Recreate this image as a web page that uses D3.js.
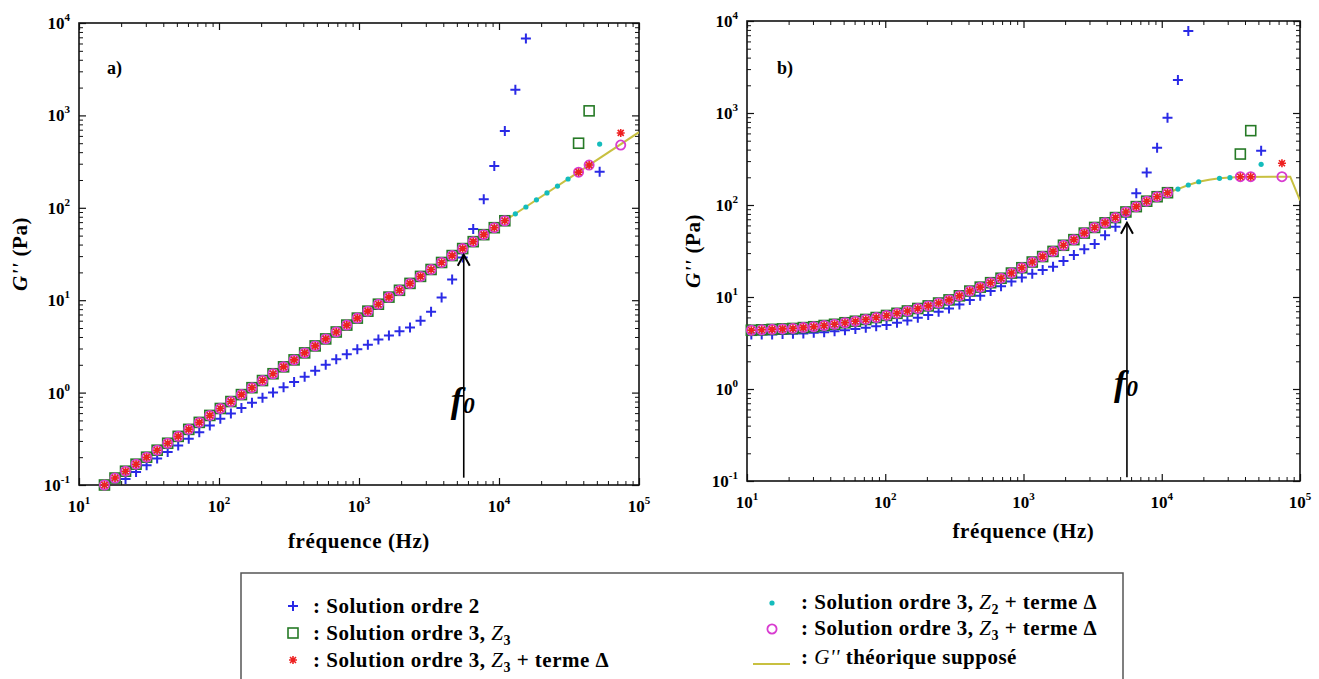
<!DOCTYPE html>
<html><head><meta charset="utf-8">
<script src="https://cdn.jsdelivr.net/npm/d3@7"></script>
<style>
body{margin:0;background:#fff;}
svg{display:block;}
text{font-family:"Liberation Serif","Times New Roman",serif;font-weight:bold;fill:#000;}
</style>
</head><body>
<svg id="c" width="1319" height="679"></svg>
<script>
// ---------------- DATA ----------------
// common frequency grid (Hz) of the computed points
const freqMain = [15.2, 18.08, 21.5, 25.56, 30.4, 36.15, 42.99, 51.12, 60.8, 72.3, 85.98, 102.2, 121.6, 144.6, 172.0, 204.5, 243.2, 289.2, 343.9, 409.0, 486.4, 578.4, 687.9, 818.0, 972.8, 1157, 1376, 1636, 1946, 2314, 2752, 3272, 3891, 4627, 5503, 6544, 7782, 9255, 11006];

// ----- panel a -----
const gMainA = [0.1, 0.119, 0.141, 0.168, 0.2, 0.238, 0.283, 0.336, 0.4, 0.476, 0.566, 0.673, 0.8, 0.951, 1.13, 1.35, 1.6, 1.9, 2.26, 2.69, 3.2, 3.81, 4.53, 5.38, 6.4, 7.61, 9.05, 10.8, 12.8, 15.2, 18.1, 21.5, 25.6, 30.4, 36.2, 43.0, 51.2, 60.9, 72.4];
const freqBlueA = [21.5, 25.56, 30.4, 36.15, 42.99, 51.12, 60.8, 72.3, 85.98, 102.2, 121.6, 144.6, 172.0, 204.5, 243.2, 289.2, 343.9, 409.0, 486.4, 578.4, 687.9, 818.0, 972.8, 1157, 1376, 1636, 1946, 2314, 2752, 3272, 3891, 4627, 5503, 6544, 7782, 9255, 11006, 13089, 15565, 52355];
const gBlueA = [0.116, 0.138, 0.164, 0.194, 0.228, 0.268, 0.316, 0.372, 0.44, 0.52, 0.595, 0.68, 0.775, 0.88, 1.0, 1.14, 1.3, 1.48, 1.72, 2.0, 2.3, 2.6, 2.95, 3.3, 3.75, 4.15, 4.6, 5.05, 6.0, 7.5, 10.7, 16.7, 29, 59, 124, 283, 676, 1900, 6800, 245];
const freqSquareExA = [37020, 44025];
const gSquareExA = [500, 1120];
const freqStarExA = [37020, 44025, 74040];
const gStarExA = [243, 290, 646];
const freqCircleExA = [37020, 44025, 74040];
const gCircleExA = [243, 290, 478];
const freqCyanExA = [13089, 15565, 18510, 22012, 26177, 31130, 37020, 44025, 52355];
const gCyanExA = [86.1, 102, 122, 145, 172, 205, 243, 290, 490];
const freqTheoryA = [10, 100000];
const gTheoryA = [0.0658, 658];

// ----- panel b -----
const freqMainB = [10.75, 12.78].concat(freqMain);
const gMainB = [4.35, 4.4, 4.45, 4.5, 4.55, 4.65, 4.75, 4.9, 5.05, 5.25, 5.45, 5.7, 5.98, 6.3, 6.65, 7.05, 7.5, 8.0, 8.6, 9.3, 10.3, 11.6, 12.8, 14.3, 16.0, 18.2, 20.8, 24, 27.5, 31.3, 36.5, 42, 49.5, 57, 64, 73, 84, 96, 110, 123, 136];
const freqBlueB = [10.75, 12.78, 15.2, 18.08, 21.5, 25.56, 30.4, 36.15, 42.99, 51.12, 60.8, 72.3, 85.98, 102.2, 121.6, 144.6, 172.0, 204.5, 243.2, 289.2, 343.9, 409.0, 486.4, 578.4, 687.9, 818.0, 972.8, 1157, 1376, 1636, 1946, 2314, 2752, 3272, 3891, 4627, 5503, 6544, 7782, 9255, 11006, 13089, 15565, 52355];
const gBlueB = [3.9, 3.9, 3.92, 3.95, 3.98, 4.02, 4.08, 4.15, 4.25, 4.35, 4.48, 4.62, 4.8, 4.97, 5.25, 5.55, 5.95, 6.37, 6.9, 7.5, 8.3, 9.27, 10.3, 11.6, 13.1, 14.7, 16.3, 17.9, 19.6, 21.3, 24.6, 28.6, 33, 37.7, 47, 58, 78, 134, 226, 420, 889, 2290, 7780, 389];
const freqSquareExB = [37020, 44025];
const gSquareExB = [358, 643];
const freqStarExB = [37020, 44025, 74040];
const gStarExB = [203, 203, 284];
const freqCircleExB = [37020, 44025, 74040];
const gCircleExB = [203, 203, 203];
const freqCyanExB = [13089, 15565, 18510, 26177, 31130, 52355];
const gCyanExB = [149, 165, 179, 195, 198, 277];
const freqTheoryB = [10, 30, 100, 300, 1000, 3000, 5500, 11000, 13089, 15565, 18510, 22012, 26177, 31130, 37020, 85000, 100000];
const gTheoryB = [4.33, 4.75, 6.2, 9.4, 21.7, 53, 84, 136, 149, 165, 179, 188, 195, 199, 202, 203, 112];

// f0 arrow
const f0 = 5600;

// ticks
const xMajor = [1e1, 1e2, 1e3, 1e4, 1e5];
const xExp = ['1', '2', '3', '4', '5'];
const yMajor = [1e-1, 1e0, 1e1, 1e2, 1e3, 1e4];
const yExp = ['-1', '0', '1', '2', '3', '4'];

// legend
const legendLeft = ['plus', 'square', 'star'];
const legendRight = ['dot', 'circle', 'line'];

// ---------------- DRAW ----------------
const svg = d3.select('#c');
const C = {blue:'#2a2ae6', green:'#267a26', red:'#ee2020', cyan:'#14bcbc', mag:'#d83cd0', yel:'#c8c040'};

function minors(lo, hi){ const out=[]; for(let e=lo;e<hi;e++) for(let m=2;m<=9;m++) out.push(m*Math.pow(10,e)); return out; }

function marker(sel, type){
  if(type==='plus') sel.append('path').attr('d','M-5,0H5M0,-5V5').attr('stroke',C.blue).attr('stroke-width',2).attr('fill','none');
  else if(type==='square') sel.append('rect').attr('x',-5).attr('y',-5).attr('width',10).attr('height',10).attr('stroke',C.green).attr('stroke-width',1.6).attr('fill','none');
  else if(type==='star') sel.append('path').attr('d','M-4,0H4M0,-4V4M-3,-3L3,3M-3,3L3,-3').attr('stroke',C.red).attr('stroke-width',1.6).attr('fill','none');
  else if(type==='dot') sel.append('circle').attr('r',2.6).attr('fill',C.cyan);
  else if(type==='circle') sel.append('circle').attr('r',4.6).attr('stroke',C.mag).attr('stroke-width',1.8).attr('fill','none');
}

function drawPanel(P){
  const x = d3.scaleLog().domain([10,1e5]).range([P.x0,P.x1]);
  const y = d3.scaleLog().domain([0.1,1e4]).range([P.y1,P.y0]);
  const g = svg.append('g');
  svg.append('clipPath').attr('id','clip'+P.id).append('rect')
    .attr('x',P.x0).attr('y',P.y0).attr('width',P.x1-P.x0).attr('height',P.y1-P.y0);

  const xMin = minors(1,5), yMin = minors(-1,4);
  const defs = [
    [d3.axisBottom(x), `translate(0,${P.y1})`, xMajor, xMin],
    [d3.axisTop(x), `translate(0,${P.y0})`, xMajor, xMin],
    [d3.axisLeft(y), `translate(${P.x0},0)`, yMajor, yMin],
    [d3.axisRight(y), `translate(${P.x1},0)`, yMajor, yMin]
  ];
  defs.forEach(([ax,t,maj,mn])=>{
    g.append('g').attr('transform',t).call(ax.tickValues(maj).tickSize(-7).tickFormat(()=>''))
      .call(s=>{s.select('.domain').remove(); s.selectAll('line').attr('stroke','#111').attr('stroke-width',1.2);});
    g.append('g').attr('transform',t).call(ax.tickValues(mn).tickSize(-4).tickFormat(()=>''))
      .call(s=>{s.select('.domain').remove(); s.selectAll('line').attr('stroke','#111').attr('stroke-width',1);});
  });
  g.append('rect').attr('x',P.x0).attr('y',P.y0).attr('width',P.x1-P.x0).attr('height',P.y1-P.y0)
    .attr('fill','none').attr('stroke','#111').attr('stroke-width',1.6);

  // tick labels
  xMajor.forEach((v,i)=>{
    const t=g.append('text').attr('x',x(v)).attr('y',P.y1+27).attr('text-anchor','middle').attr('font-size',17);
    t.append('tspan').text('10');
    t.append('tspan').attr('dy',-8).attr('font-size',11).text(xExp[i]);
  });
  yMajor.forEach((v,i)=>{
    const t=g.append('text').attr('x',P.x0-9).attr('y',y(v)+6).attr('text-anchor','end').attr('font-size',17);
    t.append('tspan').text('10');
    t.append('tspan').attr('dy',-8).attr('font-size',11).text(yExp[i]);
  });

  // axis titles
  g.append('text').attr('x',(P.x0+P.x1)/2).attr('y',P.xt).attr('text-anchor','middle')
    .attr('font-size',21).attr('letter-spacing',0.6).text('fréquence (Hz)');
  const yt=g.append('text').attr('transform',`translate(${P.yx},${(P.y0+P.y1)/2}) rotate(-90)`)
    .attr('text-anchor','middle').attr('font-size',21).attr('letter-spacing',0.6);
  yt.append('tspan').attr('font-style','italic').text("G''");
  yt.append('tspan').text(' (Pa)');

  g.append('text').attr('x',P.lx).attr('y',P.ly).attr('font-size',18).text(P.label);

  // theoretical line
  g.append('path').datum(d3.zip(P.thF,P.thG)).attr('clip-path',`url(#clip${P.id})`)
    .attr('d',d3.line().x(d=>x(d[0])).y(d=>y(d[1])))
    .attr('fill','none').attr('stroke',C.yel).attr('stroke-width',2);

  function series(fs, gs, type){
    d3.zip(fs,gs).forEach(d=>{
      const m=g.append('g').attr('transform',`translate(${x(d[0])},${y(d[1])})`);
      marker(m,type);
    });
  }
  series(P.blueF, P.blueG, 'plus');
  series(P.mainF.concat(P.sqF), P.mainG.concat(P.sqG), 'square');
  series(P.mainF.concat(P.cyF), P.mainG.concat(P.cyG), 'dot');
  series(P.mainF.concat(P.ciF), P.mainG.concat(P.ciG), 'circle');
  series(P.mainF.concat(P.stF), P.mainG.concat(P.stG), 'star');

  // f0 arrow
  const ax0=x(f0), yb=y(P.arrowLo), yt2=y(P.arrowHi);
  g.append('line').attr('x1',ax0).attr('x2',ax0).attr('y1',yb).attr('y2',yt2).attr('stroke','#000').attr('stroke-width',1.6);
  g.append('path').attr('d',`M${ax0-6},${yt2+11}L${ax0},${yt2}L${ax0+6},${yt2+11}`).attr('fill','none').attr('stroke','#000').attr('stroke-width',2);
  const ft=g.append('text').attr('x',ax0-13).attr('y',P.fy).attr('font-style','italic').attr('font-size',36);
  ft.append('tspan').text('f');
  ft.append('tspan').attr('font-size',24).attr('dy',1).text('0');
}

drawPanel({id:'a', x0:79, x1:639, y0:23, y1:485, xt:548, yx:27, lx:107, ly:74, label:'a)',
  mainF:freqMain, mainG:gMainA, blueF:freqBlueA, blueG:gBlueA,
  sqF:freqSquareExA, sqG:gSquareExA, stF:freqStarExA, stG:gStarExA,
  ciF:freqCircleExA, ciG:gCircleExA, cyF:freqCyanExA, cyG:gCyanExA,
  thF:freqTheoryA, thG:gTheoryA, arrowLo:0.12, arrowHi:31, fy:412});

drawPanel({id:'b', x0:747, x1:1300, y0:21, y1:481, xt:538, yx:700, lx:777, ly:74, label:'b)',
  mainF:freqMainB, mainG:gMainB, blueF:freqBlueB, blueG:gBlueB,
  sqF:freqSquareExB, sqG:gSquareExB, stF:freqStarExB, stG:gStarExB,
  ciF:freqCircleExB, ciG:gCircleExB, cyF:freqCyanExB, cyG:gCyanExB,
  thF:freqTheoryB, thG:gTheoryB, arrowLo:0.11, arrowHi:64, fy:395});

// ---------------- LEGEND ----------------
const lg = svg.append('g');
lg.append('rect').attr('x',241).attr('y',573).attr('width',882).attr('height',130)
  .attr('fill','#fff').attr('stroke','#555').attr('stroke-width',1.5);

function legendText(xp, yp, parts){
  const t=lg.append('text').attr('x',xp).attr('y',yp).attr('font-size',21).attr('letter-spacing',0.5);
  parts.forEach(p=>{
    const s=t.append('tspan').text(p.t);
    if(p.it){ s.attr('font-style','italic').attr('font-weight','normal'); }
    if(p.sub){ s.attr('font-size',14).attr('dy',5); }
    if(p.up){ s.attr('dy',-5); }
  });
}
const sol3 = ': Solution ordre 3, ';
const leftTexts = [
  [{t:': Solution ordre 2'}],
  [{t:sol3},{t:'Z',it:true},{t:'3',sub:true}],
  [{t:sol3},{t:'Z',it:true},{t:'3',sub:true},{t:' + terme Δ',up:true}]
];
const rightTexts = [
  [{t:sol3},{t:'Z',it:true},{t:'2',sub:true},{t:' + terme Δ',up:true}],
  [{t:sol3},{t:'Z',it:true},{t:'3',sub:true},{t:' + terme Δ',up:true}],
  [{t:': '},{t:"G''",it:true},{t:' théorique supposé'}]
];
const leftRows=[606,633,660], rightRows=[603,629,664];
legendLeft.forEach((type,i)=>{
  marker(lg.append('g').attr('transform',`translate(293,${leftRows[i]})`), type);
  legendText(313, leftRows[i]+7, leftTexts[i]);
});
legendRight.forEach((type,i)=>{
  if(type==='line') lg.append('line').attr('x1',753).attr('x2',790).attr('y1',rightRows[i]).attr('y2',rightRows[i]).attr('stroke',C.yel).attr('stroke-width',2);
  else marker(lg.append('g').attr('transform',`translate(772,${rightRows[i]})`), type);
  legendText(801, rightRows[i]+(type==='line'?0:6), rightTexts[i]);
});
</script>
</body></html>
